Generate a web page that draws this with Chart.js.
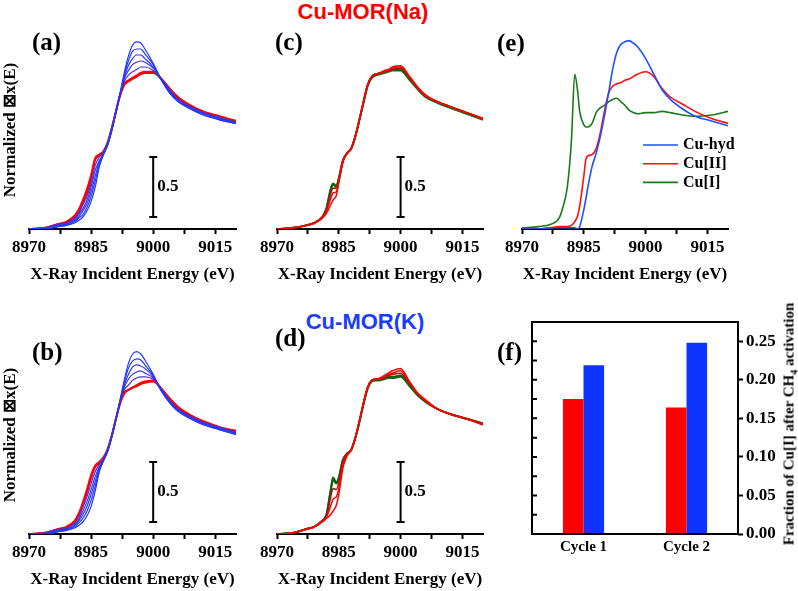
<!DOCTYPE html>
<html>
<head>
<meta charset="utf-8">
<script src="https://cdn.jsdelivr.net/npm/chart.js@4.4.0/dist/chart.umd.min.js"></script>
<style>
  body { margin: 0; background: #fff; }
  #wrap { position: relative; width: 798px; height: 591px; overflow: hidden; background: #fff; }
  canvas { position: absolute; }
  .lbl { position: absolute; font-family: "Liberation Serif", "Times New Roman", serif; font-weight: bold;
         font-size: 25px; line-height: 1; transform: translateY(-50%); color: #000; }
  .ttl { position: absolute; font-family: "Liberation Sans", Arial, sans-serif; font-weight: bold;
         font-size: 22px; line-height: 1; white-space: nowrap; transform: translate(-50%, -50%); }
  #ftitle { position: absolute; left: 790px; top: 424px; white-space: nowrap;
            font-family: "Liberation Serif", "Times New Roman", serif; font-weight: bold; font-size: 15px;
            transform: translate(-50%, -50%) rotate(-90deg); }
</style>
</head>
<body>
<div id="wrap">
  <div class="ttl" style="left:363px;top:12px;color:#ff0000">Cu-MOR(Na)</div>
  <div class="ttl" style="left:365px;top:322px;color:#1a3cff">Cu-MOR(K)</div>

  <canvas id="pa" width="250" height="290" style="left:0;top:0"></canvas>
  <canvas id="pc" width="250" height="290" style="left:250px;top:0"></canvas>
  <canvas id="pe" width="298" height="290" style="left:500px;top:0"></canvas>
  <canvas id="pb" width="250" height="290" style="left:0;top:305px"></canvas>
  <canvas id="pd" width="250" height="290" style="left:250px;top:305px"></canvas>
  <canvas id="pf" width="298" height="301" style="left:500px;top:290px"></canvas>

  <div class="lbl" style="left:32px;top:41px">(a)</div>
  <div class="lbl" style="left:275px;top:41px">(c)</div>
  <div class="lbl" style="left:497px;top:42px">(e)</div>
  <div class="lbl" style="left:32px;top:351px">(b)</div>
  <div class="lbl" style="left:275px;top:337px">(d)</div>
  <div class="lbl" style="left:497px;top:351px">(f)</div>
  <div id="ftitle">Fraction of Cu[I] after CH<sub style="font-size:10px">4</sub> activation</div>
</div>

<script>
// ---- data ----
const energyAB = [8970, 8974, 8977, 8979, 8981, 8982, 8983, 8984, 8985, 8986, 8987, 8988, 8989, 8990, 8991,
                  8992, 8993, 8994, 8995, 8996, 8997, 8998, 9000, 9002, 9004, 9006, 9009, 9012, 9016, 9020];

// (a) Cu-MOR(Na) hydrated -> activated
const naBlue = [
  [0.00,0.00,0.02,0.03,0.05,0.07,0.10,0.15,0.23,0.35,0.52,0.62,0.70,0.82,0.97,1.13,1.30,1.44,1.53,1.56,1.55,1.50,1.38,1.24,1.13,1.06,1.00,0.95,0.91,0.88],
  [0.00,0.00,0.02,0.03,0.06,0.09,0.12,0.18,0.27,0.40,0.54,0.62,0.70,0.82,0.97,1.13,1.28,1.40,1.48,1.50,1.50,1.46,1.37,1.24,1.14,1.07,1.00,0.96,0.91,0.88],
  [0.00,0.00,0.03,0.04,0.07,0.10,0.15,0.21,0.31,0.44,0.56,0.63,0.71,0.83,0.97,1.13,1.26,1.36,1.42,1.45,1.45,1.42,1.35,1.24,1.14,1.07,1.01,0.96,0.92,0.89],
  [0.00,0.01,0.03,0.04,0.08,0.12,0.17,0.24,0.35,0.49,0.57,0.63,0.71,0.83,0.98,1.12,1.25,1.32,1.37,1.39,1.40,1.39,1.34,1.25,1.15,1.08,1.01,0.97,0.92,0.89],
  [0.00,0.01,0.04,0.05,0.09,0.13,0.20,0.27,0.38,0.53,0.60,0.64,0.72,0.84,0.98,1.12,1.23,1.28,1.31,1.33,1.35,1.35,1.32,1.25,1.16,1.08,1.02,0.97,0.93,0.89]
];
const naRed = [
  [0.00,0.01,0.04,0.05,0.10,0.15,0.22,0.30,0.42,0.58,0.61,0.64,0.72,0.84,0.98,1.12,1.21,1.24,1.26,1.28,1.30,1.31,1.31,1.25,1.16,1.09,1.02,0.98,0.93,0.90],
  [0.00,0.01,0.04,0.06,0.11,0.16,0.24,0.33,0.45,0.59,0.62,0.65,0.72,0.84,0.98,1.11,1.20,1.23,1.25,1.27,1.29,1.30,1.30,1.25,1.17,1.10,1.03,0.98,0.94,0.90]
];

// (b) Cu-MOR(K) hydrated -> activated
const kBlue = [
  [0.00,0.00,0.02,0.03,0.05,0.07,0.10,0.15,0.23,0.36,0.52,0.61,0.69,0.81,0.96,1.12,1.28,1.42,1.50,1.52,1.50,1.45,1.33,1.19,1.09,1.02,0.96,0.91,0.87,0.83],
  [0.00,0.00,0.02,0.03,0.06,0.09,0.13,0.19,0.28,0.40,0.53,0.61,0.69,0.81,0.96,1.11,1.26,1.38,1.44,1.46,1.45,1.41,1.32,1.19,1.10,1.03,0.96,0.92,0.87,0.83],
  [0.00,0.00,0.03,0.04,0.07,0.11,0.16,0.23,0.33,0.44,0.55,0.62,0.69,0.81,0.96,1.11,1.24,1.33,1.39,1.41,1.40,1.38,1.31,1.20,1.10,1.03,0.97,0.92,0.88,0.84],
  [0.00,0.01,0.03,0.04,0.08,0.12,0.19,0.27,0.37,0.48,0.56,0.62,0.70,0.82,0.96,1.10,1.22,1.29,1.33,1.35,1.36,1.34,1.30,1.20,1.11,1.04,0.97,0.93,0.88,0.84],
  [0.00,0.01,0.04,0.05,0.09,0.14,0.22,0.31,0.42,0.52,0.58,0.63,0.70,0.82,0.96,1.10,1.20,1.24,1.28,1.30,1.31,1.31,1.29,1.21,1.11,1.04,0.98,0.93,0.89,0.85]
];
const kRed = [
  [0.00,0.01,0.04,0.05,0.10,0.16,0.25,0.35,0.47,0.56,0.59,0.63,0.70,0.82,0.96,1.09,1.18,1.20,1.22,1.24,1.26,1.27,1.28,1.21,1.12,1.05,0.98,0.94,0.89,0.85],
  [0.00,0.01,0.04,0.06,0.11,0.17,0.26,0.37,0.49,0.57,0.60,0.64,0.71,0.82,0.96,1.09,1.17,1.20,1.22,1.23,1.25,1.26,1.27,1.21,1.13,1.06,0.99,0.94,0.89,0.86]
];

const energyCD = [8970, 8974, 8977, 8979, 8981, 8982, 8983, 8983.6, 8984.4, 8985, 8986, 8987, 8988, 8989, 8990, 8991,
                  8992, 8993, 8994, 8995, 8996, 8997, 8998, 9000, 9002, 9004, 9006, 9009, 9012, 9016, 9020];

// (c) Cu-MOR(Na) during CH4 reaction
const naReact = [
  [0.00,0.01,0.03,0.05,0.09,0.13,0.20,0.24,0.28,0.38,0.56,0.63,0.67,0.77,0.91,1.06,1.20,1.27,1.29,1.30,1.32,1.33,1.35,1.36,1.28,1.19,1.12,1.06,1.02,0.97,0.92],
  [0.00,0.01,0.03,0.05,0.10,0.15,0.25,0.30,0.31,0.40,0.56,0.63,0.67,0.77,0.91,1.06,1.20,1.27,1.29,1.30,1.31,1.32,1.34,1.35,1.27,1.18,1.11,1.06,1.02,0.97,0.92],
  [0.00,0.01,0.03,0.05,0.10,0.16,0.29,0.34,0.34,0.41,0.57,0.63,0.67,0.77,0.91,1.06,1.20,1.27,1.29,1.30,1.31,1.32,1.33,1.34,1.27,1.18,1.11,1.06,1.02,0.97,0.92]
];
const naFinal = [
  [0.00,0.01,0.03,0.05,0.10,0.17,0.33,0.38,0.36,0.42,0.57,0.63,0.67,0.77,0.91,1.06,1.20,1.27,1.29,1.30,1.31,1.32,1.33,1.33,1.26,1.18,1.11,1.06,1.02,0.97,0.92],
  [0.00,0.01,0.03,0.05,0.10,0.17,0.32,0.37,0.35,0.42,0.57,0.63,0.67,0.77,0.91,1.05,1.19,1.26,1.28,1.29,1.30,1.31,1.32,1.32,1.25,1.17,1.10,1.05,1.01,0.96,0.91]
];

// (d) Cu-MOR(K) during CH4 reaction
const kReact = [
  [0.00,0.01,0.04,0.06,0.10,0.13,0.16,0.19,0.24,0.33,0.55,0.65,0.70,0.80,0.94,1.09,1.22,1.28,1.29,1.30,1.32,1.34,1.36,1.38,1.28,1.18,1.12,1.04,1.00,0.96,0.91],
  [0.00,0.01,0.04,0.06,0.11,0.14,0.23,0.29,0.31,0.38,0.58,0.66,0.70,0.80,0.94,1.09,1.22,1.28,1.29,1.29,1.31,1.33,1.34,1.36,1.27,1.18,1.11,1.04,1.00,0.96,0.91],
  [0.00,0.01,0.04,0.06,0.11,0.15,0.30,0.38,0.37,0.43,0.60,0.67,0.70,0.80,0.94,1.09,1.22,1.28,1.29,1.29,1.30,1.32,1.33,1.34,1.26,1.17,1.11,1.04,1.00,0.96,0.92]
];
const kFinal = [
  [0.00,0.01,0.04,0.06,0.11,0.16,0.36,0.47,0.43,0.47,0.62,0.67,0.70,0.80,0.94,1.09,1.22,1.28,1.29,1.29,1.30,1.31,1.31,1.32,1.25,1.17,1.11,1.04,1.00,0.96,0.92],
  [0.00,0.01,0.04,0.06,0.11,0.16,0.35,0.45,0.42,0.46,0.61,0.67,0.70,0.80,0.93,1.08,1.21,1.27,1.28,1.28,1.29,1.30,1.30,1.31,1.24,1.16,1.10,1.04,1.00,0.96,0.92]
];

// (e) reference spectra
const energyE = [8970, 8974, 8977, 8979, 8980, 8981, 8982, 8982.8, 8983.5, 8984, 8985, 8985.5, 8986, 8987, 8988, 8989,
                 8990, 8991, 8992, 8993, 8994, 8995, 8996, 8997, 8998, 9000, 9002, 9004, 9006, 9009, 9012, 9016, 9020];
const refLabels = ['Cu-hyd', 'Cu[II]', 'Cu[I]'];
const cuHyd = [0.00,0.00,0.01,0.01,0.01,0.01,0.01,0.01,0.00,0.02,0.16,0.25,0.35,0.52,0.63,0.77,0.94,1.13,1.33,1.47,1.54,1.56,1.57,1.55,1.52,1.42,1.29,1.16,1.08,1.00,0.94,0.90,0.86];
const cuII  = [0.00,0.00,0.01,0.02,0.02,0.02,0.03,0.06,0.11,0.19,0.44,0.58,0.61,0.62,0.67,0.80,0.98,1.13,1.19,1.21,1.22,1.24,1.25,1.27,1.29,1.31,1.27,1.17,1.10,1.04,0.98,0.92,0.88];
const cuI   = [0.01,0.02,0.04,0.09,0.19,0.35,0.74,1.29,1.15,0.98,0.87,0.85,0.85,0.88,0.97,1.01,1.03,1.06,1.08,1.09,1.06,1.03,0.99,0.97,0.96,0.97,0.97,0.98,0.97,0.95,0.94,0.95,0.98];

// (f) Cu[I] fraction after CH4 activation
const cycles = ['Cycle 1', 'Cycle 2'];
const fracNa = [0.175, 0.164];
const fracK = [0.219, 0.248];
const fracTicks = [0, 0.05, 0.10, 0.15, 0.20, 0.25];

// scale bar (0.5 in normalized units) drawn at 9000 eV
const scaleBarX = 9000;
const scaleBar = [0.1, 0.6];
const scaleBarText = '0.5';

// ---- styling ----
Chart.defaults.font.family = '"Liberation Serif", "Times New Roman", Times, serif';
Chart.defaults.font.weight = 'bold';
Chart.defaults.font.size = 16;
Chart.defaults.color = '#000';

const BLUES = ['#1c3bff', '#2438f8', '#3036f0', '#3c33e6', '#4a31dc'];
const REDS = ['#ff0000', '#f40503'];
const REACT_REDS = ['#ff0000', '#e8080a', '#b0140c'];
const GREENS = ['#0f5f0f', '#177017'];

const scaleBarLabel = {
  id: 'scaleBarLabel',
  afterDatasetsDraw(chart) {
    const i = chart.data.datasets.findIndex(d => d.isScaleBar);
    if (i < 0) return;
    const pts = chart.getDatasetMeta(i).data;
    const ctx = chart.ctx;
    ctx.save();
    ctx.font = 'bold 17px "Liberation Serif", "Times New Roman", serif';
    ctx.fillStyle = '#000';
    ctx.textBaseline = 'middle';
    ctx.fillText(scaleBarText, pts[0].x + 4, (pts[0].y + pts[1].y) / 2);
    ctx.restore();
  }
};

const refLegend = {
  id: 'refLegend',
  afterDraw(chart) {
    if (!chart.options.plugins.refLegend || !chart.options.plugins.refLegend.show) return;
    const { ctx, chartArea } = chart;
    ctx.save();
    ctx.font = 'bold 16px "Liberation Serif", "Times New Roman", serif';
    ctx.textBaseline = 'middle';
    chart.data.datasets.forEach((ds, i) => {
      const y = chartArea.top + 114 + i * 18.7;
      ctx.strokeStyle = ds.borderColor;
      ctx.lineWidth = 1.6;
      ctx.beginPath();
      ctx.moveTo(chartArea.right - 85, y);
      ctx.lineTo(chartArea.right - 50, y);
      ctx.stroke();
      ctx.fillStyle = '#000';
      ctx.fillText(ds.label, chartArea.right - 45, y);
    });
    ctx.restore();
  }
};

function energyAxis() {
  return {
    type: 'linear', min: 8970, max: 9020,
    border: { display: true, color: '#000', width: 2 },
    grid: { display: true, drawOnChartArea: false, drawTicks: true, tickLength: 5, tickWidth: 2, tickColor: '#000' },
    ticks: {
      stepSize: 7.5, includeBounds: false, autoSkip: false, maxRotation: 0, padding: 3,
      font: { size: 17, weight: 'bold' },
      callback: v => (v % 15 === 0 ? String(v) : '')
    },
    title: { display: true, text: 'X-Ray Incident Energy (eV)', font: { size: 17, weight: 'bold' },
             padding: { top: 0, bottom: 5 } },
    afterFit: s => { s.height = 61; }
  };
}

function curveSets(energy, curves, colors, width, labels) {
  return curves.map((c, i) => ({
    label: labels ? labels[i] : '',
    data: energy.map((e, k) => ({ x: e, y: c[k] })),
    borderColor: colors[i % colors.length],
    borderWidth: width,
    pointRadius: 0,
    cubicInterpolationMode: 'monotone',
    fill: false
  }));
}

function xanesChart(id, datasets, opt) {
  if (opt.bar) {
    datasets.push({
      isScaleBar: true, label: '',
      data: [{ x: scaleBarX, y: scaleBar[0] }, { x: scaleBarX, y: scaleBar[1] }],
      borderColor: '#000', borderWidth: 2, tension: 0,
      pointStyle: 'line', pointRadius: 4, pointBorderWidth: 2, pointBorderColor: '#000'
    });
  }
  return new Chart(document.getElementById(id), {
    type: 'line',
    data: { datasets },
    options: {
      responsive: false, animation: false, events: [],
      layout: { padding: { top: 31, right: opt.right, left: 0, bottom: 0 } },
      plugins: { legend: { display: false }, tooltip: { enabled: false }, refLegend: { show: !!opt.legend } },
      scales: {
        x: energyAxis(),
        y: {
          type: 'linear', min: 0, max: 1.65,
          grid: { display: false, drawTicks: false }, border: { display: false },
          ticks: { display: false },
          title: { display: !!opt.ytitle, text: 'Normalized \u22A0x(E)', font: { size: 17, weight: 'bold' },
                   padding: { top: 0, bottom: 0 } },
          afterFit: s => { s.width = opt.left; }
        }
      }
    },
    plugins: [scaleBarLabel, refLegend]
  });
}

// (a)
xanesChart('pa', [...curveSets(energyAB, naBlue, BLUES, 1.2), ...curveSets(energyAB, naRed, REDS, 2)],
           { left: 29, right: 14, bar: true, ytitle: true });
// (b)
xanesChart('pb', [...curveSets(energyAB, kBlue, BLUES, 1.2), ...curveSets(energyAB, kRed, REDS, 2)],
           { left: 29, right: 14, bar: true, ytitle: true });
// (c)
xanesChart('pc', [...curveSets(energyCD, naReact, REACT_REDS, 1.5), ...curveSets(energyCD, naFinal, GREENS, 2)],
           { left: 27, right: 17, bar: true });
// (d)
xanesChart('pd', [...curveSets(energyCD, kReact, REACT_REDS, 1.5), ...curveSets(energyCD, kFinal, GREENS, 2)],
           { left: 27, right: 17, bar: true });
// (e)
xanesChart('pe', [
  ...curveSets(energyE, [cuHyd], ['#1f4fff'], 1.6, [refLabels[0]]),
  ...curveSets(energyE, [cuII], ['#ff1010'], 1.6, [refLabels[1]]),
  ...curveSets(energyE, [cuI], ['#1a7a1a'], 1.6, [refLabels[2]])
], { left: 22, right: 70, legend: true });

// (f)
const frameTicks = {
  id: 'frameTicks',
  afterDraw(chart) {
    const { ctx, chartArea } = chart;
    const ys = chart.scales.y;
    ctx.save();
    ctx.strokeStyle = '#000';
    ctx.lineWidth = 2;
    ctx.strokeRect(chartArea.left, chartArea.top, chartArea.right - chartArea.left, chartArea.bottom - chartArea.top);
    ctx.beginPath();
    ys.ticks.forEach(t => {
      if (t.value <= 0) return;
      const y = ys.getPixelForValue(t.value);
      ctx.moveTo(chartArea.left, y);
      ctx.lineTo(chartArea.left + 5, y);
    });
    ctx.stroke();
    ctx.restore();
  }
};

new Chart(document.getElementById('pf'), {
  type: 'bar',
  data: {
    labels: cycles,
    datasets: [
      { label: 'Cu-MOR(Na)', data: fracNa, backgroundColor: '#ff0000' },
      { label: 'Cu-MOR(K)', data: fracK, backgroundColor: '#1034ff' }
    ]
  },
  options: {
    responsive: false, animation: false, events: [],
    layout: { padding: { top: 32, right: 0, left: 0, bottom: 0 } },
    datasets: { bar: { categoryPercentage: 0.4, barPercentage: 1.0 } },
    plugins: { legend: { display: false }, tooltip: { enabled: false } },
    scales: {
      x: {
        grid: { display: false, drawTicks: false }, border: { display: false },
        ticks: { font: { size: 15, weight: 'bold' }, padding: 4 },
        afterFit: s => { s.height = 57; }
      },
      y: {
        position: 'left', min: 0, max: 0.275,
        grid: { display: false, drawTicks: false }, border: { display: false },
        ticks: { display: false, stepSize: 0.025, includeBounds: false },
        afterFit: s => { s.width = 32; }
      },
      y2: {
        position: 'right', min: 0, max: 0.275,
        grid: { display: true, drawOnChartArea: false, tickLength: 5, tickWidth: 2, tickColor: '#000' },
        border: { display: false },
        afterBuildTicks: s => { s.ticks = fracTicks.map(v => ({ value: v })); },
        ticks: { font: { size: 17, weight: 'bold' }, padding: 3, callback: v => Number(v).toFixed(2) },
        afterFit: s => { s.width = 60; }
      }
    }
  },
  plugins: [frameTicks]
});
</script>
</body>
</html>
